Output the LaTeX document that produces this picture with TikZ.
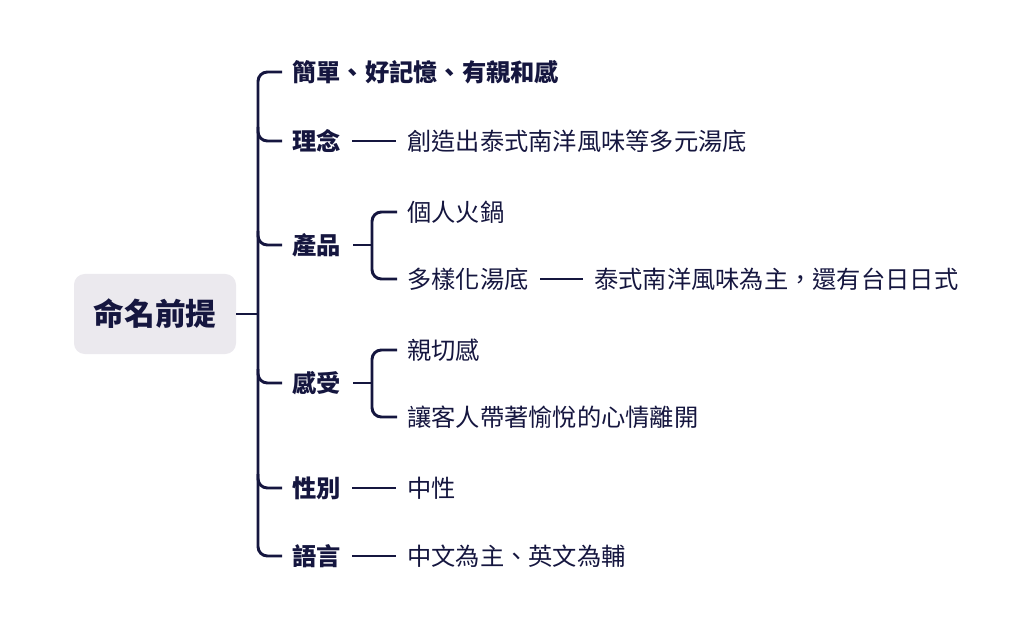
\documentclass[tikz,border=0pt]{standalone}
\usepackage{fontspec}
\setmainfont{Noto Sans CJK TC}
\begin{document}
\begin{tikzpicture}[x=0.75pt,y=-0.75pt]
\definecolor{ink}{HTML}{15163F}
\definecolor{boxg}{HTML}{EBE9EE}
\tikzset{
 ln/.style={draw=ink,line width=2.2pt,rounded corners=7pt},
 lab/.style={anchor=west,inner sep=0pt,text=ink,font=\fontsize{18.2}{21}\selectfont\bfseries},
 leaf/.style={anchor=west,inner sep=0pt,text=ink,font=\fontsize{18.2}{21}\selectfont},
}
\useasboundingbox (0,0) rectangle (1024,627);
\node[fill=boxg,rounded corners=8pt,minimum width=121.5pt,minimum height=60pt,text=ink,font=\fontsize{23}{27}\selectfont\bfseries] (root) at (155,314) {命名前提};
\coordinate (j) at (258,314);
\draw[ln] (root.east) -- (j);
% main bracket
\node[lab] (a) at (292,72) {簡單、好記憶、有親和感};
\node[lab] (b) at (292,141) {理念};
\node[lab] (c) at (292,245) {產品};
\node[lab] (d) at (292,383) {感受};
\node[lab] (e) at (292,488) {性別};
\node[lab] (f) at (292,556) {語言};
\draw[ln] (282,72) -- (258,72) -- (258,556) -- (282,556);
\foreach \y in {141,245,383,488} \draw[ln] (258,\y-14) |- (282,\y);
% leaves
\node[leaf] (b1) at (407,141) {創造出泰式南洋風味等多元湯底};
\draw[ln] (352,141) -- (396,141);
\node[leaf] (c1) at (407,212) {個人火鍋};
\node[leaf] (c2) at (407,279) {多樣化湯底};
\node[leaf] (c3) at (594,279) {泰式南洋風味為主，還有台日日式};
\draw[ln] (353,245) -- (372,245);
\draw[ln] (397,212) -- (372,212) -- (372,279) -- (397,279);
\draw[ln] (540,279) -- (583,279);
\node[leaf] (d1) at (407,350) {親切感};
\node[leaf] (d2) at (407,417) {讓客人帶著愉悅的心情離開};
\draw[ln] (353,383) -- (372,383);
\draw[ln] (397,350) -- (372,350) -- (372,417) -- (397,417);
\node[leaf] (e1) at (407,488) {中性};
\draw[ln] (352,488) -- (396,488);
\node[leaf] (f1) at (407,556) {中文為主、英文為輔};
\draw[ln] (352,556) -- (396,556);
\end{tikzpicture}
\end{document}
